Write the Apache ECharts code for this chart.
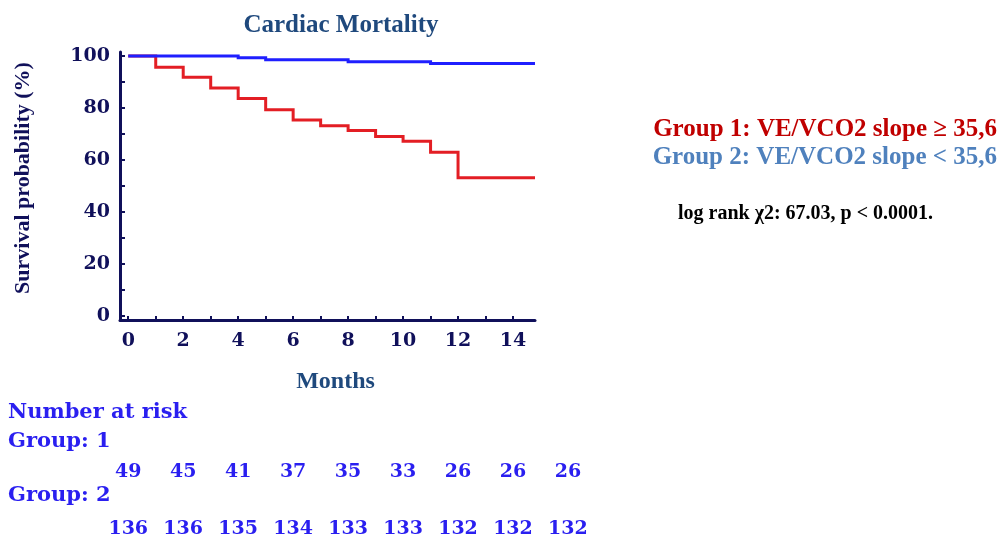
<!DOCTYPE html>
<html>
<head>
<meta charset="utf-8">
<script src="https://cdn.jsdelivr.net/npm/echarts@6/dist/echarts.min.js"></script>
<style>html,body{margin:0;padding:0;background:#fff;}#c{width:1000px;height:537px;}</style>
</head>
<body>
<div id="c"></div>
<script>
// Kaplan-Meier step points [month, survival %]
const group1Curve = [[0,100],[1,100],[1,95.6],[2,95.6],[2,91.8],[3,91.8],[3,87.7],[4,87.7],[4,83.6],[5,83.6],[5,79.3],[6,79.3],[6,75.4],[7,75.4],[7,73.2],[8,73.2],[8,71.3],[9,71.3],[9,69.0],[10,69.0],[10,67.2],[11,67.2],[11,63.0],[12,63.0],[12,53.2],[14.8,53.2]];
const group2Curve = [[0,100],[4,100],[4,99.3],[5,99.3],[5,98.5],[8,98.5],[8,97.8],[11,97.8],[11,97.1],[14.8,97.1]];
const xTicks = [0,1,2,3,4,5,6,7,8,9,10,11,12,13,14];
const xTickLabels = [0,2,4,6,8,10,12,14];
const yTicks = [0,10,20,30,40,50,60,70,80,90,100];
const yTickLabels = [0,20,40,60,80,100];
const riskMonths = [0,2,4,6,8,10,12,14,16];
const riskGroup1 = [49,45,41,37,35,33,26,26,26];
const riskGroup2 = [136,136,135,134,133,133,132,132,132];

const navy = '#10105a';
const serif = '"DejaVu Serif", serif';
const times = '"Liberation Serif", "Times New Roman", serif';
const riskBlue = '#2a1ff0';

function riskLabel() {
  return {show: true, position: 'inside', formatter: p => String(p.value[2]),
    fontFamily: serif, fontWeight: 'bold', fontSize: 19, color: riskBlue,
    textBorderWidth: 0, textShadowBlur: 0, opacity: 1};
}

const chart = echarts.init(document.getElementById('c'));
chart.setOption({
  animation: false,
  backgroundColor: '#ffffff',
  title: {
    text: 'Cardiac Mortality', left: 336, top: 8, textAlign: 'center',
    textStyle: {fontFamily: times, fontWeight: 'bold', fontSize: 25, color: '#1f497d'}
  },
  grid: [
    {left: 120, right: 465, top: 52, bottom: 217},
    {left: 120, width: 475.4, top: 472, height: 57}
  ],
  xAxis: [
    {
      type: 'value', gridIndex: 0, min: -0.3, max: 14.8,
      name: 'Months', nameLocation: 'middle', nameGap: 50,
      nameTextStyle: {fontFamily: times, fontWeight: 'bold', fontSize: 24, color: '#1f497d', padding: [0,0,0,16]},
      axisLine: {show: true, onZero: false, lineStyle: {color: navy, width: 3}},
      axisTick: {show: true, inside: true, length: 4, customValues: xTicks, lineStyle: {color: navy, width: 2}},
      axisLabel: {customValues: xTickLabels, margin: 12, fontFamily: serif, fontWeight: 'bold', fontSize: 19, color: navy},
      splitLine: {show: false}
    },
    {
      type: 'value', gridIndex: 1, min: -0.3, max: 17, show: false
    }
  ],
  yAxis: [
    {
      type: 'value', gridIndex: 0, min: -1.5, max: 101.5,
      name: 'Survival probability (%)', nameLocation: 'middle', nameGap: 86, nameRotate: 90,
      nameTextStyle: {fontFamily: times, fontWeight: 'bold', fontSize: 22, color: navy, padding: [0,0,0,16]},
      axisLine: {show: true, onZero: false, lineStyle: {color: navy, width: 3}},
      axisTick: {show: true, inside: true, length: 5, customValues: yTicks, lineStyle: {color: navy, width: 2}},
      axisLabel: {customValues: yTickLabels, margin: 10, fontFamily: serif, fontWeight: 'bold', fontSize: 19, color: navy},
      splitLine: {show: false}
    },
    {
      type: 'value', gridIndex: 1, min: 0, max: 1, show: false
    }
  ],
  series: [
    {
      type: 'lines', coordinateSystem: 'cartesian2d', xAxisIndex: 0, yAxisIndex: 0, polyline: true,
      data: [{coords: group1Curve}],
      lineStyle: {color: '#e31e24', width: 3, opacity: 1}, z: 3
    },
    {
      type: 'lines', coordinateSystem: 'cartesian2d', xAxisIndex: 0, yAxisIndex: 0, polyline: true,
      data: [{coords: group2Curve}],
      lineStyle: {color: '#1f1fff', width: 3, opacity: 1}, z: 4
    },
    {
      type: 'scatter', xAxisIndex: 1, yAxisIndex: 1, symbolSize: 0, itemStyle: {opacity: 1},
      data: riskMonths.map((m, i) => [m, 1, riskGroup1[i]]),
      label: riskLabel()
    },
    {
      type: 'scatter', xAxisIndex: 1, yAxisIndex: 1, symbolSize: 0, itemStyle: {opacity: 1},
      data: riskMonths.map((m, i) => [m, 0, riskGroup2[i]]),
      label: riskLabel()
    }
  ],
  graphic: [
    {type: 'text', left: 8, top: 402, style: {text: 'Number at risk', font: 'bold 21px ' + serif, fill: riskBlue}},
    {type: 'text', left: 8, top: 431, style: {text: 'Group: 1', font: 'bold 21px ' + serif, fill: riskBlue}},
    {type: 'text', left: 8, top: 485, style: {text: 'Group: 2', font: 'bold 21px ' + serif, fill: riskBlue}},
    {type: 'text', right: 3, top: 117, style: {text: 'Group 1: VE/VCO2 slope \u2265 35,6', font: 'bold 25px ' + times, fill: '#c00000'}},
    {type: 'text', right: 3, top: 145, style: {text: 'Group 2: VE/VCO2 slope < 35,6', font: 'bold 25px ' + times, fill: '#4f81bd'}},
    {type: 'text', left: 678, top: 204, style: {text: 'log rank \u03c72: 67.03, p < 0.0001.', font: 'bold 20px ' + times, fill: '#000000'}}
  ]
});
</script>
</body>
</html>
